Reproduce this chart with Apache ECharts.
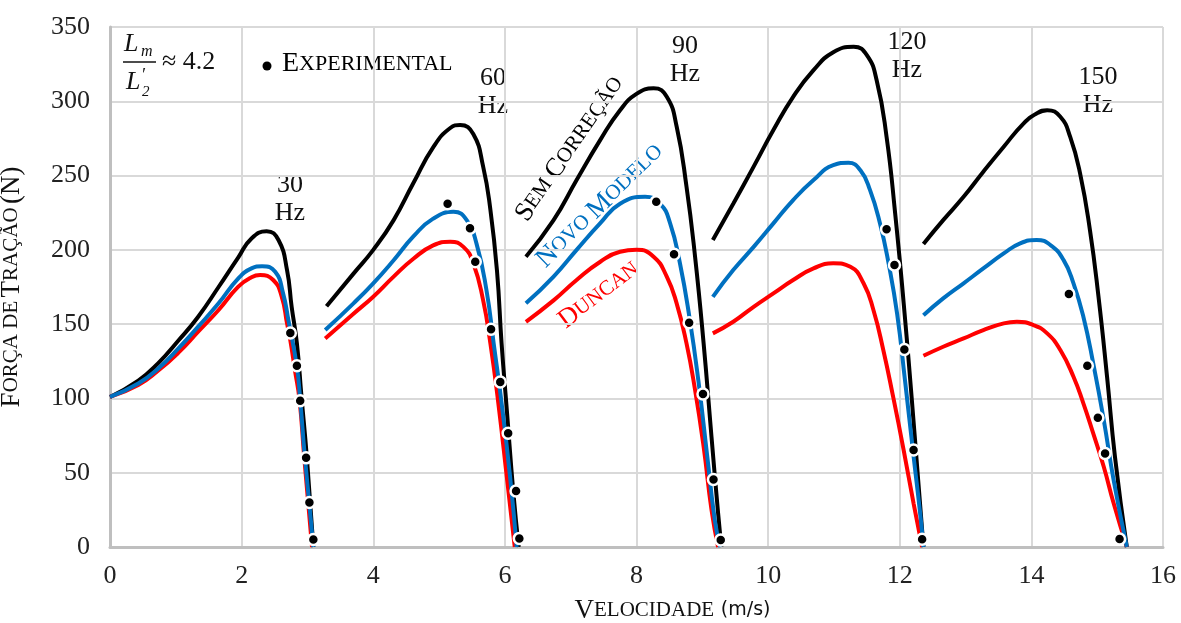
<!DOCTYPE html>
<html>
<head>
<meta charset="utf-8">
<script src="https://cdn.jsdelivr.net/npm/echarts@6/dist/echarts.min.js"></script>
<style>
  html, body { margin: 0; padding: 0; background: #fff; }
  #chart { width: 1181px; height: 623px; }
</style>
</head>
<body>
<div id="chart"></div>
<script>
// força de tração x velocidade
const sem30 = [[0,101],[0.43,112],[0.73,123.6],[1.04,139],[1.34,155],[1.65,175],[1.95,195],[2.15,207.7],[2.38,212.6],[2.56,206.6],[2.69,186.4],[2.76,161.7],[2.84,137],[2.91,101],[2.99,61],[3.09,0]];
const novo30 = [[0,101],[0.43,110],[0.73,120],[1.04,133.7],[1.34,148.3],[1.65,164],[1.95,180.8],[2.15,187.5],[2.31,189],[2.51,185.3],[2.63,170.7],[2.71,152.8],[2.84,121.3],[2.89,99],[2.96,61],[3.09,0]];
const dun30 = [[0,101],[0.43,109],[0.73,118.6],[1.04,130.8],[1.34,144.9],[1.65,159.5],[1.95,175.2],[2.15,181.5],[2.28,183],[2.48,179.7],[2.61,168.4],[2.69,150.5],[2.74,139],[2.81,119],[2.88,99],[2.95,61],[3.07,0]];
const exp30 = [[2.74,144],[2.84,122],[2.89,98.5],[2.98,60],[3.03,30],[3.09,5]];

const sem60 = [[3.29,162],[3.70,184],[4.0,200],[4.31,220],[4.61,245],[4.91,269],[5.17,282],[5.32,284],[5.52,278],[5.67,256],[5.78,227],[5.88,186],[5.95,137],[6.03,92],[6.13,36],[6.21,0]];
const novo60 = [[3.27,146],[3.70,164],[4.0,177.5],[4.31,193],[4.61,209],[4.91,221],[5.22,225.6],[5.42,220],[5.57,204],[5.72,173],[5.83,137],[5.95,97],[6.08,47],[6.18,0]];
const dun60 = [[3.27,140.4],[3.70,157],[4.0,168.5],[4.31,182],[4.61,194],[4.91,203],[5.17,205.5],[5.37,202],[5.52,191],[5.67,166],[5.78,137],[5.90,97],[6.03,47],[6.15,0]];
const exp60 = [[5.13,231],[5.47,214.5],[5.55,192],[5.79,146.5],[5.93,111],[6.05,76.5],[6.17,37.7],[6.22,5.8]];

const sem90 = [[6.32,195.4],[6.74,220],[7.09,247],[7.45,274],[7.75,294],[8.0,305],[8.26,308.7],[8.46,303],[8.61,283],[8.76,242.5],[8.89,195.4],[9.02,137],[9.14,74],[9.24,22.7],[9.29,0]];
const novo90 = [[6.32,164],[6.74,182],[7.09,200],[7.45,218],[7.75,231],[8.13,235.7],[8.36,231],[8.51,218],[8.66,191],[8.81,153],[8.94,112],[9.07,63],[9.19,18],[9.27,0]];
const dun90 = [[6.32,151.6],[6.74,166],[7.09,179.7],[7.45,192],[7.75,198.7],[8.0,200],[8.26,195.4],[8.46,182],[8.61,164],[8.76,137],[8.89,105.7],[9.02,67.5],[9.14,25],[9.24,0]];
const exp90 = [[8.30,232.4],[8.57,197],[8.80,151],[9.01,103],[9.17,45.5],[9.28,4.7]];

const sem120 = [[9.16,206.6],[9.47,231],[9.78,256],[10.08,280.6],[10.38,303],[10.69,321],[10.99,333],[11.30,336.7],[11.50,331],[11.65,314],[11.80,276],[11.93,224.6],[12.06,164],[12.18,101],[12.28,45],[12.36,0]];
const novo120 = [[9.16,168.4],[9.47,186.4],[9.78,202],[10.08,217.8],[10.38,233.5],[10.69,247],[10.99,257],[11.22,258.6],[11.40,253.7],[11.55,240],[11.70,217.8],[11.83,191],[11.96,157],[12.08,112],[12.21,61],[12.31,22.7],[12.36,0]];
const dun120 = [[9.16,143.8],[9.47,151.6],[9.78,161.7],[10.08,170.7],[10.38,179.7],[10.69,187.5],[10.99,191],[11.25,188.6],[11.45,177.5],[11.60,159.5],[11.75,132.6],[11.90,101],[12.06,65],[12.21,29.4],[12.34,0]];
const exp120 = [[11.80,213.8],[11.92,189.8],[12.07,133],[12.21,65.3],[12.34,5.2]];

const sem150 = [[12.36,204],[12.66,220],[12.97,235.7],[13.27,252.6],[13.58,269.4],[13.88,285],[14.08,291.8],[14.24,294],[14.44,289.6],[14.59,276],[14.74,251.5],[14.89,213.3],[15.02,168.4],[15.15,114.6],[15.27,60.8],[15.45,0]];
const novo150 = [[12.36,156],[12.66,167.3],[12.97,177.5],[13.27,187.5],[13.58,197.6],[13.83,204.4],[14.08,206.6],[14.29,203.2],[14.49,193.1],[14.64,177.5],[14.79,155],[14.94,123.6],[15.10,85.5],[15.25,45],[15.45,0]];
const dun150 = [[12.36,128.7],[12.66,134.8],[12.97,140.4],[13.27,146],[13.58,150.5],[13.78,151.6],[14.03,149.4],[14.24,143.8],[14.44,132.6],[14.64,114.6],[14.79,96.7],[14.94,76.5],[15.10,54],[15.25,29.4],[15.45,0]];
const exp150 = [[14.57,170.3],[14.85,122],[15.01,87],[15.12,63],[15.34,5.4]];

const freqLabels = ['30', '60', '90', '120', '150'];

const SERIF = '"Liberation Serif", "DejaVu Serif", serif';
const BLACK = '#000000';
const BLUE = '#0070c0';
const RED = '#ff0000';

// versalete: maiúscula grande + resto em caixa alta menor
const capsRich = function (big, small, color) {
    return {
        c: { fontFamily: SERIF, fontSize: big, color: color },
        s: { fontFamily: SERIF, fontSize: small, color: color }
    };
};

function lineSeries(data, color) {
    return {
        type: 'line',
        data: data,
        smooth: 0.5,
        showSymbol: false,
        lineStyle: { color: color, width: 4 },
        silent: true
    };
}

function expSeries(data) {
    return {
        type: 'scatter',
        data: data,
        symbolSize: 11,
        itemStyle: { color: '#000', borderColor: '#fff', borderWidth: 2.5, opacity: 1 },
        z: 5
    };
}

const groups = [
    [sem30, dun30, novo30, exp30],
    [sem60, dun60, novo60, exp60],
    [sem90, dun90, novo90, exp90],
    [sem120, dun120, novo120, exp120],
    [sem150, dun150, novo150, exp150]
];

let series = [];
groups.forEach(function (g) {
    series.push(lineSeries(g[0], BLACK));
    series.push(lineSeries(g[1], RED));
    series.push(lineSeries(g[2], BLUE));
    series.push(expSeries(g[3]));
});

// centro dos rótulos "xx / Hz" (px)
const hzPos = [[290, 199], [493, 92], [685, 60], [907, 56], [1098, 91]];

let graphics = [];
freqLabels.forEach(function (f, i) {
    graphics.push({
        type: 'text', x: hzPos[i][0], y: hzPos[i][1],
        style: { text: f + '\nHz', fontFamily: SERIF, fontSize: 26, lineHeight: 28, fill: '#111',
                 align: 'center', verticalAlign: 'middle', textAlign: 'center', textVerticalAlign: 'middle' }
    });
});

// nomes das curvas, girados
function curveName(text, x, y, angle, color) {
    return {
        type: 'text', x: x, y: y, rotation: angle * Math.PI / 180,
        style: { text: text, rich: capsRich(27, 21, color), fill: color,
                 align: 'center', verticalAlign: 'middle', textAlign: 'center', textVerticalAlign: 'middle' }
    };
}
graphics.push(curveName('{c|S}{s|EM }{c|C}{s|ORREÇÃO}', 570, 149, 55, BLACK));
graphics.push(curveName('{c|N}{s|OVO }{c|M}{s|ODELO}', 600, 206, 44, BLUE));
graphics.push(curveName('{c|D}{s|UNCAN}', 599, 295, 37, RED));

// legenda: Lm / L'2 ≈ 4.2
const italic = { fontFamily: SERIF, fontStyle: 'italic', fill: '#111' };
graphics.push(
    { type: 'text', x: 124, y: 44, style: Object.assign({ text: 'L', fontSize: 26, verticalAlign: 'middle', textVerticalAlign: 'middle' }, italic) },
    { type: 'text', x: 141, y: 52, style: Object.assign({ text: 'm', fontSize: 16, verticalAlign: 'middle', textVerticalAlign: 'middle' }, italic) },
    { type: 'line', shape: { x1: 123, y1: 62, x2: 156, y2: 62 }, style: { stroke: '#111', lineWidth: 1.5 } },
    { type: 'text', x: 126, y: 82, style: Object.assign({ text: 'L', fontSize: 26, verticalAlign: 'middle', textVerticalAlign: 'middle' }, italic) },
    { type: 'text', x: 141, y: 76, style: Object.assign({ text: '′', fontSize: 18, verticalAlign: 'middle', textVerticalAlign: 'middle' }, italic) },
    { type: 'text', x: 142, y: 92, style: Object.assign({ text: '2', fontSize: 15, verticalAlign: 'middle', textVerticalAlign: 'middle' }, italic) },
    { type: 'text', x: 162, y: 62, style: { text: '≈ 4.2', fontFamily: SERIF, fontSize: 26, fill: '#111', verticalAlign: 'middle', textVerticalAlign: 'middle' } },
    { type: 'circle', shape: { cx: 267, cy: 66, r: 4.5 }, style: { fill: '#000' } },
    { type: 'text', x: 282, y: 64, style: { text: '{c|E}{s|XPERIMENTAL}', rich: capsRich(28, 22, '#111'), verticalAlign: 'middle', textVerticalAlign: 'middle' } }
);

const option = {
    animation: false,
    backgroundColor: '#fff',
    grid: { left: 110, right: 18, top: 27, bottom: 76, outerBoundsMode: 'none', containLabel: false },
    xAxis: {
        type: 'value', min: 0, max: 16, interval: 2,
        name: '{c|V}{s|ELOCIDADE}  {u|(m/s)}',
        nameLocation: 'middle', nameGap: 50,
        nameTextStyle: {
            padding: [0, 0, 0, 72],
            rich: Object.assign(capsRich(27, 21, '#111'), { u: { fontFamily: '"DejaVu Sans", sans-serif', fontSize: 19, color: '#111' } })
        },
        axisLine: { show: true, lineStyle: { color: '#bfbfbf', width: 3 } },
        axisTick: { show: false },
        axisLabel: { fontFamily: SERIF, fontSize: 26, color: '#222', margin: 16 },
        splitLine: { lineStyle: { color: '#d9d9d9', width: 2 } }
    },
    yAxis: {
        type: 'value', min: 0, max: 350, interval: 50,
        name: '{c|F}{s|ORÇA DE} {c|T}{s|RAÇÃO} {c|(N)}',
        nameLocation: 'middle', nameGap: 85, nameRotate: 90,
        nameTextStyle: { rich: capsRich(27, 21, '#111') },
        axisLine: { show: true, lineStyle: { color: '#bfbfbf', width: 3 } },
        axisTick: { show: false },
        axisLabel: { fontFamily: SERIF, fontSize: 26, color: '#222', margin: 20 },
        splitLine: { lineStyle: { color: '#d9d9d9', width: 2 } }
    },
    graphic: graphics,
    series: series
};

const chart = echarts.init(document.getElementById('chart'));
chart.setOption(option);
</script>
</body>
</html>
